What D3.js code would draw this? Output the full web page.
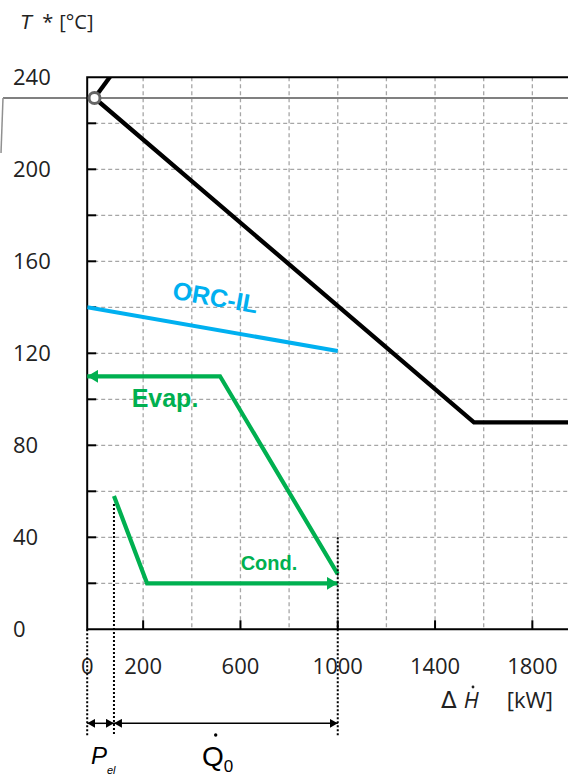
<!DOCTYPE html>
<html>
<head>
<meta charset="utf-8">
<script src="https://cdn.jsdelivr.net/npm/d3@7"></script>
<style>
  body { margin: 0; background: #fff; }
  svg { display: block; }
</style>
</head>
<body>
<div class="app"></div>
<script>
// temperature profiles: [heat flow kW, temperature °C]
var hotSource = [[0, 231], [1560, 90], [2100, 90]];
var hotUpper = [[0, 231], [90, 244]];
var orcIL = [[-30, 140], [1000, 121]];
var evap = [[1000, 24], [516, 110], [-30, 110]];
var cond = [[80, 58], [216, 20], [1000, 20]];
var pinch = [0, 231];
var refTemp = 231;

var xTickLabels = [0, 200, 600, 1000, 1400, 1800];
var xMajorTicks = [200, 600, 1000, 1400, 1800];
var xGrid = [200, 400, 600, 800, 1000, 1200, 1400, 1600, 1800, 2000];
var yTickLabels = [0, 40, 80, 120, 160, 200, 240];
var yTicks = [20, 40, 60, 80, 100, 120, 140, 160, 180, 200, 220];

var xMin = -30, pEl = 80, q0End = 1000;

var W = 568, H = 775;
var x = d3.scaleLinear().domain([0, 2000]).range([94.5, 581]);
var y = d3.scaleLinear().domain([0, 240]).range([629.3, 77.3]);
var x0 = x(xMin);

var svg = d3.select(".app").append("svg")
    .attr("width", W).attr("height", H)
    .attr("font-family", "'Open Sans', 'Noto Sans', sans-serif");

var defs = svg.append("defs");
defs.append("clipPath").attr("id", "plot")
  .append("rect").attr("x", x0).attr("y", y(240)).attr("width", W - x0).attr("height", y(0) - y(240));

function arrowMarker(id, color, len, half) {
  defs.append("marker").attr("id", id)
      .attr("markerUnits", "userSpaceOnUse")
      .attr("viewBox", "0 " + (-half) + " " + len + " " + (2 * half))
      .attr("refX", len).attr("refY", 0)
      .attr("markerWidth", len).attr("markerHeight", 2 * half)
      .attr("orient", "auto-start-reverse")
    .append("path")
      .attr("d", "M0," + (-half) + "L" + len + ",0L0," + half + "Z")
      .attr("fill", color);
}
arrowMarker("arrG", "#00b050", 11, 6.5);
arrowMarker("arrK", "#000", 8, 4.5);

// grid
var grid = svg.append("g").attr("stroke", "#a6a6a6").attr("stroke-width", 1.3)
    .attr("stroke-dasharray", "4,3");
grid.selectAll(".vg").data(xGrid).enter().append("line")
    .attr("x1", d => x(d)).attr("x2", d => x(d))
    .attr("y1", y(240)).attr("y2", y(0));
grid.selectAll(".hg").data(yTicks).enter().append("line")
    .attr("x1", x0).attr("x2", W)
    .attr("y1", d => y(d)).attr("y2", d => y(d));

// reference temperature line
svg.append("line").attr("x1", 3).attr("x2", W)
    .attr("y1", y(refTemp)).attr("y2", y(refTemp))
    .attr("stroke", "#808080").attr("stroke-width", 2);
svg.append("line").attr("x1", 3).attr("x2", 1)
    .attr("y1", y(refTemp)).attr("y2", y(refTemp) + 55)
    .attr("stroke", "#909090").attr("stroke-width", 1.5);

// axes box
svg.append("path")
    .attr("d", "M" + W + "," + y(240) + "H" + x0 + "V" + y(0) + "H" + W)
    .attr("fill", "none").attr("stroke", "#000").attr("stroke-width", 2);

svg.append("g").selectAll("line").data(yTicks).enter().append("line")
    .attr("x1", x0).attr("x2", x0 + 9)
    .attr("y1", d => y(d)).attr("y2", d => y(d))
    .attr("stroke", "#000").attr("stroke-width", 2);
svg.append("g").selectAll("line").data(xMajorTicks).enter().append("line")
    .attr("x1", d => x(d)).attr("x2", d => x(d))
    .attr("y1", y(0)).attr("y2", y(0) - 9)
    .attr("stroke", "#000").attr("stroke-width", 2);

// tick labels
svg.append("g").selectAll("text").data(yTickLabels).enter().append("text")
    .attr("x", 13).attr("y", d => y(d)).attr("dy", "0.36em")
    .attr("font-size", 22).attr("fill", "#222")
    .text(d => d);
svg.append("g").selectAll("text").data(xTickLabels).enter().append("text")
    .attr("x", d => d === 0 ? x0 : x(d)).attr("y", 666).attr("dy", "0.36em")
    .attr("text-anchor", "middle")
    .attr("font-size", 22).attr("fill", "#222")
    .text(d => d);

// axis titles
var tt = svg.append("text").attr("x", 20).attr("y", 29).attr("font-size", 20).attr("fill", "#222");
tt.append("tspan").attr("font-style", "italic").attr("font-family", "'Liberation Sans', Arial, sans-serif").text("T");
tt.append("tspan").attr("dx", 10).text("*");
tt.append("tspan").attr("dx", 6).text("[°C]");

var xt = svg.append("text").attr("x", 441).attr("y", 708).attr("font-size", 22).attr("fill", "#222");
xt.append("tspan").attr("font-family", "'DejaVu Sans', sans-serif").attr("font-size", 23).text("Δ");
xt.append("tspan").attr("dx", 7).attr("font-style", "italic").text("H");
xt.append("tspan").attr("dx", 28).text("[kW]");
svg.append("circle").attr("cx", 473).attr("cy", 687).attr("r", 1.4).attr("fill", "#222");

// lines
var line = d3.line().x(d => x(d[0])).y(d => y(d[1]));
var plot = svg.append("g").attr("clip-path", "url(#plot)");

plot.append("path").datum(orcIL).attr("d", line)
    .attr("fill", "none").attr("stroke", "#00b0f0").attr("stroke-width", 4);

plot.append("path").datum(hotSource).attr("d", line)
    .attr("fill", "none").attr("stroke", "#000").attr("stroke-width", 4.3)
    .attr("stroke-linejoin", "miter");
plot.append("path").datum(hotUpper).attr("d", line)
    .attr("fill", "none").attr("stroke", "#000").attr("stroke-width", 4.3);

svg.append("path").datum(evap).attr("d", line)
    .attr("fill", "none").attr("stroke", "#00b050").attr("stroke-width", 4.2)
    .attr("marker-end", "url(#arrG)");
svg.append("path").datum(cond).attr("d", line)
    .attr("fill", "none").attr("stroke", "#00b050").attr("stroke-width", 4.2)
    .attr("marker-end", "url(#arrG)");

svg.append("circle").attr("cx", x(pinch[0])).attr("cy", y(pinch[1])).attr("r", 5.5)
    .attr("fill", "#fff").attr("stroke", "#666").attr("stroke-width", 3);

// labels on lines
svg.append("text").attr("transform", "translate(214,306) rotate(10)")
    .attr("text-anchor", "middle")
    .attr("font-family", "'Liberation Sans', Arial, sans-serif")
    .attr("font-weight", "bold").attr("font-size", 25).attr("fill", "#00b0f0")
    .text("ORC-IL");
svg.append("text").attr("x", 165).attr("y", 407)
    .attr("text-anchor", "middle")
    .attr("font-family", "'Liberation Sans', Arial, sans-serif")
    .attr("font-weight", "bold").attr("font-size", 25).attr("fill", "#00b050")
    .text("Evap.");
svg.append("text").attr("x", 269).attr("y", 570)
    .attr("text-anchor", "middle")
    .attr("font-family", "'Liberation Sans', Arial, sans-serif")
    .attr("font-weight", "bold").attr("font-size", 20).attr("fill", "#00b050")
    .text("Cond.");

// dimension lines
var dims = [[xMin, y(0)], [pEl, y(58) + 8], [q0End, y(40)]];
svg.append("g").selectAll("line").data(dims).enter().append("line")
    .attr("x1", d => x(d[0])).attr("x2", d => x(d[0]))
    .attr("y1", d => d[1]).attr("y2", 736)
    .attr("stroke", "#000").attr("stroke-width", 2).attr("stroke-dasharray", "2,2");

var dimY = 723.3;
[[xMin, pEl], [pEl, q0End]].forEach(function (s) {
  svg.append("line")
      .attr("x1", x(s[0])).attr("x2", x(s[1]))
      .attr("y1", dimY).attr("y2", dimY)
      .attr("stroke", "#000").attr("stroke-width", 1.5)
      .attr("marker-start", "url(#arrK)").attr("marker-end", "url(#arrK)");
});

svg.append("text").attr("x", 91).attr("y", 764)
    .attr("font-family", "'Liberation Sans', Arial, sans-serif").attr("fill", "#000")
    .attr("font-style", "italic").attr("font-size", 24).text("P");
svg.append("text").attr("x", 107).attr("y", 774)
    .attr("font-family", "'Liberation Sans', Arial, sans-serif").attr("fill", "#000")
    .attr("font-style", "italic").attr("font-size", 11).text("el");

var qt = svg.append("text").attr("x", 202).attr("y", 766)
    .attr("font-family", "'Liberation Sans', Arial, sans-serif").attr("fill", "#000");
qt.append("tspan").attr("font-size", 28).text("Q");
qt.append("tspan").attr("font-size", 17).attr("dy", 6).text("0");
svg.append("circle").attr("cx", 215.7).attr("cy", 735).attr("r", 1.7).attr("fill", "#000");
</script>
</body>
</html>
